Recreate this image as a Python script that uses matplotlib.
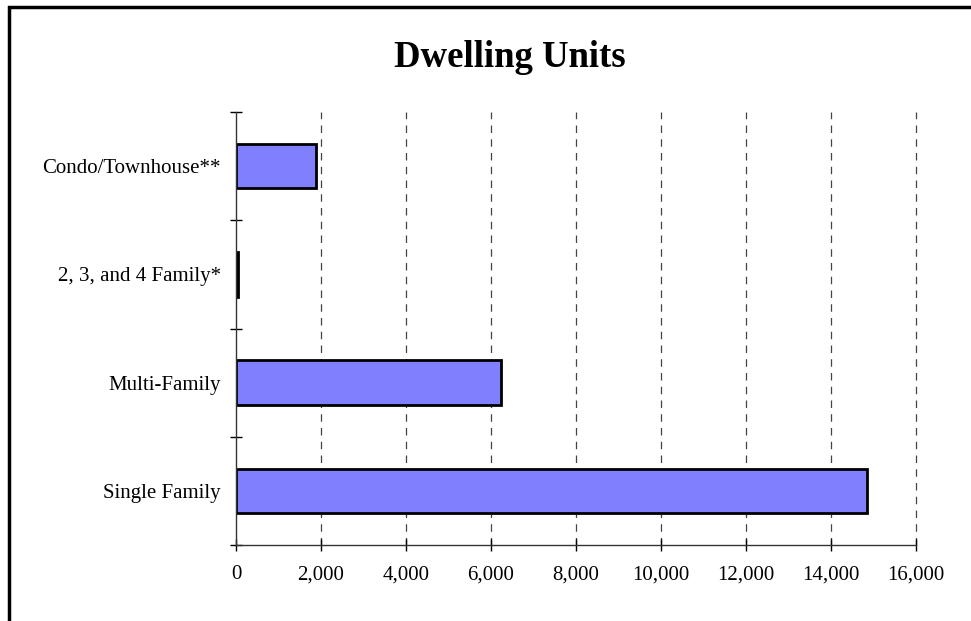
import numpy as np
import matplotlib.pyplot as plt
from matplotlib.patches import Rectangle
from matplotlib.ticker import FuncFormatter

categories = ["Single Family", "Multi-Family", "2, 3, and 4 Family*", "Condo/Townhouse**"]
units = [14850, 6240, 50, 1880]
xticks = [0, 2000, 4000, 6000, 8000, 10000, 12000, 14000, 16000]

plt.rcParams['font.family'] = ['Liberation Serif', 'DejaVu Serif']

fig = plt.figure(figsize=(9.71, 6.21), dpi=100)
ax = fig.add_axes([0.2430, 0.1224, 0.7004, 0.6972])

# outer frame (right/bottom edges run off the image)
fig.patches.append(Rectangle((9 / 971, -0.05), 1.2, 1 - 7 / 621 + 0.05,
                             transform=fig.transFigure, fill=False,
                             edgecolor='black', linewidth=2.5))

y = np.arange(len(categories))
ax.barh(y, units, height=0.41, color='#8080FF', edgecolor='black', linewidth=2)

ax.set_xlim(0, 16000)
ax.set_ylim(-0.5, len(categories) - 0.5)
ax.set_xticks(xticks)
ax.xaxis.set_major_formatter(FuncFormatter(lambda v, p: "{:,.0f}".format(v)))
ax.set_yticks(y)
ax.set_yticklabels(categories)
ax.set_yticks(np.arange(-0.5, len(categories)), minor=True)

ax.tick_params(axis='y', which='major', length=0, pad=11, labelsize=15)
ax.tick_params(axis='y', which='minor', direction='inout', length=9, width=1)
ax.tick_params(axis='x', direction='inout', length=9, width=1, pad=10, labelsize=15)

for s in ['top', 'right']:
    ax.spines[s].set_visible(False)
for s in ['left', 'bottom']:
    ax.spines[s].set_linewidth(1)
    ax.spines[s].set_color('#333333')

for v in xticks[1:]:
    ax.axvline(v, color='#444444', linestyle=(0, (6, 5)), linewidth=0.9,
               zorder=0, clip_on=False)

fig.text(0.525, 0.907, "Dwelling Units", ha='center', va='center',
         fontsize=26.5, fontweight='bold')

fig.savefig("out.png", dpi=100)
